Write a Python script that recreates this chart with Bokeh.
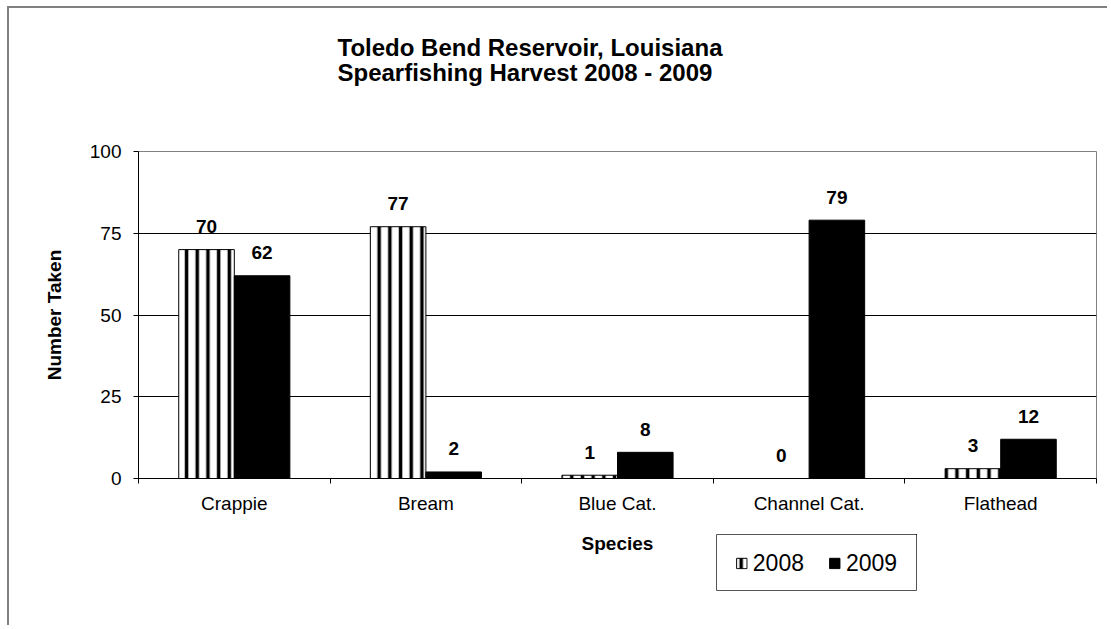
from bokeh.plotting import figure
from bokeh.layouts import column
from bokeh.models import (ColumnDataSource, Range1d, LinearAxis, FixedTicker,
                          Legend, LegendItem, Title)
from bokeh.core.properties import value
from bokeh.embed import file_html
from bokeh.resources import INLINE

species = ["Crappie", "Bream", "Blue Cat.", "Channel Cat.", "Flathead"]
harvest_2008 = [70, 77, 1, 0, 3]
harvest_2009 = [62, 2, 8, 79, 12]
years = ["2008", "2009"]
y_ticks = [0, 25, 50, 75, 100]

FONT = "Liberation Sans"
BAR_W = 0.29
HATCH = dict(hatch_pattern="|", hatch_color="black", hatch_scale=10.7, hatch_weight=3.5)
STYLE08 = dict(fill_color="white", line_color="black", line_width=1, **HATCH)
STYLE09 = dict(fill_color="black", line_color="black", line_width=1)

idx = list(range(len(species)))
src08 = ColumnDataSource(dict(
    x=[i + 0.5 - BAR_W / 2 for i in idx], top=harvest_2008,
    lbl=[str(v) for v in harvest_2008]))
src09 = ColumnDataSource(dict(
    x=[i + 0.5 + BAR_W / 2 for i in idx], top=harvest_2009,
    lbl=[str(v) for v in harvest_2009]))

p = figure(width=1100, height=619, output_backend="svg", toolbar_location=None,
           x_range=Range1d(0, len(species)), y_range=Range1d(0, 100),
           x_axis_type=None, tools="")
p.min_border_left = 129
p.min_border_top = 143
p.min_border_right = 13
p.min_border_bottom = 149
p.background_fill_color = "white"
p.border_fill_color = "white"
p.outline_line_color = "#808080"
p.outline_line_width = 1
p.styles = {"margin-left": "7px", "margin-top": "6px",
            "border-left": "2px solid #808080", "border-top": "2px solid #808080"}

# gap between title and plot area
p.add_layout(Title(text=" ", text_font_size="1px", standoff=57), "above")
p.title = Title(text="Toledo Bend Reservoir, Louisiana\nSpearfishing Harvest 2008 - 2009",
                align="left", offset=199, standoff=10, vertical_align="bottom",
                text_font=FONT, text_font_size="24px", text_font_style="bold",
                text_color="black", text_line_height=0.95)

# x axis: labels at category centres, ticks at category boundaries
xaxis = LinearAxis(
    ticker=FixedTicker(ticks=[i + 0.5 for i in idx],
                       minor_ticks=list(range(len(species) + 1))),
    major_label_overrides={i + 0.5: s for i, s in zip(idx, species)},
    axis_label="Species")
xaxis.major_tick_line_color = None
xaxis.minor_tick_line_color = "black"
xaxis.minor_tick_out = 5
xaxis.minor_tick_in = 0
xaxis.axis_line_color = "black"
xaxis.major_label_text_font = FONT
xaxis.major_label_text_font_size = "19px"
xaxis.major_label_text_color = "black"
xaxis.major_label_standoff = 8
xaxis.axis_label_text_font = FONT
xaxis.axis_label_text_font_size = "19px"
xaxis.axis_label_text_font_style = "bold"
xaxis.axis_label_text_color = "black"
xaxis.axis_label_standoff = 16
p.add_layout(xaxis, "below")

yaxis = p.yaxis[0]
yaxis.ticker = FixedTicker(ticks=y_ticks)
yaxis.minor_tick_line_color = None
yaxis.major_tick_out = 5
yaxis.major_tick_in = 0
yaxis.major_tick_line_color = "black"
yaxis.axis_line_color = "black"
yaxis.major_label_text_font = FONT
yaxis.major_label_text_font_size = "19px"
yaxis.major_label_text_color = "black"
yaxis.major_label_standoff = 12
yaxis.axis_label = "Number Taken"
yaxis.axis_label_text_font = FONT
yaxis.axis_label_text_font_size = "19px"
yaxis.axis_label_text_font_style = "bold"
yaxis.axis_label_text_color = "black"
yaxis.axis_label_standoff = 22

p.xgrid.visible = False
p.ygrid.ticker = FixedTicker(ticks=y_ticks)
p.ygrid.grid_line_color = "black"
p.ygrid.grid_line_width = 1

p.vbar(x="x", top="top", width=BAR_W, source=src08, **STYLE08)
p.vbar(x="x", top="top", width=BAR_W, source=src09, **STYLE09)

for s in (src08, src09):
    p.text(x="x", y="top", text="lbl", source=s, text_align="center",
           text_baseline="alphabetic", y_offset=-23,
           text_font=value(FONT), text_font_size="19px", text_font_style="bold",
           text_color="black")

# legend box, laid out below the chart's x axis title
# (its frame is aligned with the main figure's borders: 129 left, 13 right).
# The legend's renderers share the bar sources, but this small figure's ranges
# show none of the bars, only the legend.
leg = figure(width=200 + 129 + 13, height=57, output_backend="svg",
             toolbar_location=None, tools="", x_axis_type=None, y_axis_type=None,
             x_range=Range1d(-3, -2), y_range=Range1d(-3, -2), min_border=0)
leg.min_border_left = 129
leg.min_border_right = 13
leg.outline_line_color = "#555555"
leg.outline_line_width = 1
leg.background_fill_color = "white"
leg.border_fill_color = None
leg.border_fill_alpha = 0
k08 = leg.vbar(x="x", top="top", width=BAR_W, source=src08, **STYLE08)
k09 = leg.vbar(x="x", top="top", width=BAR_W, source=src09, **STYLE09)
legend = Legend(items=[LegendItem(label=years[0], renderers=[k08]),
                       LegendItem(label=years[1], renderers=[k09])],
                orientation="horizontal", location="center")
legend.label_text_font = FONT
legend.label_text_font_size = "23px"
legend.label_text_color = "black"
legend.glyph_width = 13
legend.glyph_height = 13
legend.label_standoff = 5
legend.spacing = 24
legend.padding = 0
legend.margin = 0
legend.border_line_color = None
legend.background_fill_alpha = 0
leg.add_layout(legend, "center")
leg.styles = {"margin-left": "587px", "margin-top": "-91px"}

layout = column(p, leg)
open("out.html", "w").write(file_html(layout, INLINE))
